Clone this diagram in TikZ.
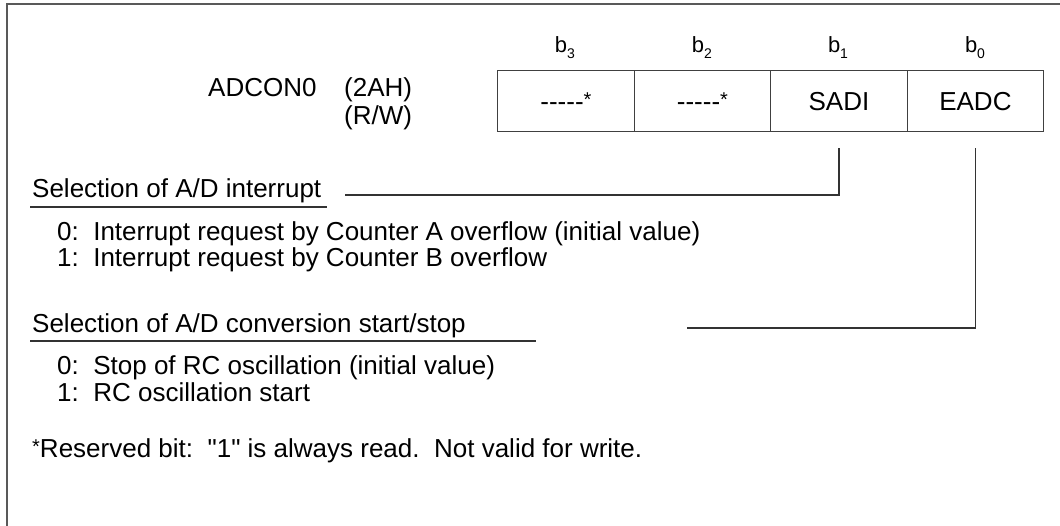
\documentclass[tikz,border=0pt]{standalone}
\usepackage{fontspec}
\setmainfont{Liberation Sans}[Ligatures=TeXOff]
\newcommand{\resast}{{\fontsize{20}{20}\selectfont\raisebox{4pt}{*}}}
\newcommand{\bitlbl}[1]{b\raisebox{-6pt}{\fontsize{14}{16}\selectfont #1}}
\begin{document}
\begin{tikzpicture}[x=1pt,y=-1pt,
  txt/.style={inner sep=0pt,anchor=base west,font=\fontsize{26}{30}\selectfont},
  ctxt/.style={inner sep=0pt,anchor=base,font=\fontsize{22}{26}\selectfont},
  cell/.style={draw=black!75,line width=1.3pt,minimum width=136.5pt,minimum height=61pt,inner sep=0pt,anchor=north west,font=\fontsize{26}{30}\selectfont},
  conn/.style={draw=black!80,line width=1.2pt},
  uline/.style={draw=black!80,line width=1.2pt}]
\useasboundingbox (0,0) rectangle (1060,526);
\fill[white] (0,0) rectangle (1060,526);
% frame (open at right and bottom)
\draw[black!65,line width=2pt] (7,526) -- (7,4) -- (1060,4);
% register title
\node[txt] (reg) at (208,97) {ADCON0};
\node[txt] (addr) at (344,97) {(2AH)};
\node[txt] (rw) at (344,125) {(R/W)};
% bit cells
\node[cell] (c3) at (497,70) {-----\resast};
\node[cell] (c2) at (633.5,70) {-----\resast};
\node[cell] (c1) at (770,70) {SADI};
\node[cell] (c0) at (906.5,70) {EADC};
% bit labels
\node[ctxt] (b3) at (565,53) {\bitlbl{3}};
\node[ctxt] (b2) at (702,53) {\bitlbl{2}};
\node[ctxt] (b1) at (838,53) {\bitlbl{1}};
\node[ctxt] (b0) at (975,53) {\bitlbl{0}};
% descriptions
\node[txt] (s1) at (32,198) {Selection of A/D interrupt};
\node[txt] (s1a) at (57,241) {0:\ \ Interrupt request by Counter A overflow (initial value)};
\node[txt] (s1b) at (57,267) {1:\ \ Interrupt request by Counter B overflow};
\node[txt] (s2) at (32,333) {Selection of A/D conversion start/stop};
\node[txt] (s2a) at (57,375) {0:\ \ Stop of RC oscillation (initial value)};
\node[txt] (s2b) at (57,401) {1:\ \ RC oscillation start};
\node[txt] (note) at (32,457) {\resast Reserved bit:\ \ "1" is always read.\ \ Not valid for write.};
% underlines
\draw[uline] (30,207) -- (327,207);
\draw[uline] (30,341) -- (536,341);
% connectors
\coordinate (k1) at (345,195);
\coordinate (k2) at (687,328);
\draw[conn] ([yshift=-16pt]c1.south) -- (c1.south |- k1) -- (k1);
\draw[conn] ([yshift=-16pt]c0.south) -- (c0.south |- k2) -- (k2);
\end{tikzpicture}
\end{document}
